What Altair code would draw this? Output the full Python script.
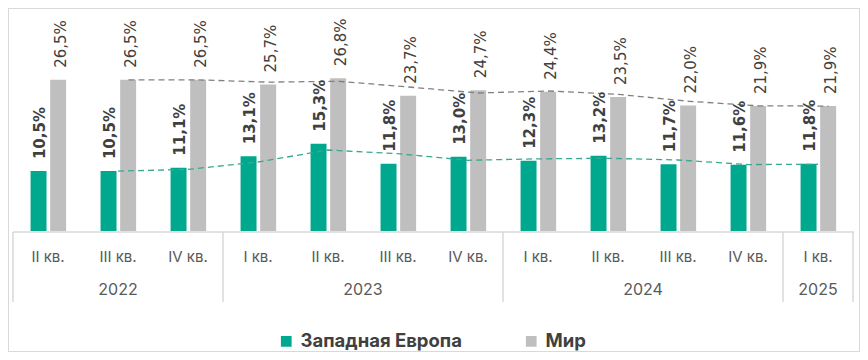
import altair as alt
import pandas as pd

quarters = ["II кв.", "III кв.", "IV кв.", "I кв.", "II кв.", "III кв.", "IV кв.",
            "I кв.", "II кв.", "III кв.", "IV кв.", "I кв."]
years = ["2022", "2022", "2022", "2023", "2023", "2023", "2023",
         "2024", "2024", "2024", "2024", "2025"]
west = [10.5, 10.5, 11.1, 13.1, 15.3, 11.8, 13.0, 12.3, 13.2, 11.7, 11.6, 11.8]
world = [26.5, 26.5, 26.5, 25.7, 26.8, 23.7, 24.7, 24.4, 23.5, 22.0, 21.9, 21.9]
series_names = ["Западная Европа", "Мир"]

TEAL = "#00a88e"
GRAY = "#bfbfbf"
LABEL = "#404040"
AXIS_TXT = "#595959"
AXIS_LN = "#d9d9d9"

rows = []
for i, (q, y, w, m) in enumerate(zip(quarters, years, west, world)):
    for s, v in ((series_names[0], w), (series_names[1], m)):
        rows.append(dict(idx=i, quarter=q, year=y, series=s, value=v,
                         label=f"{v:.1f}".replace(".", ",") + "%"))
df = pd.DataFrame(rows)
cats = pd.DataFrame({"idx": list(range(len(quarters))), "quarter": quarters, "year": years})

# year boundaries (between year groups and at both ends)
bounds = [-0.5]
for i in range(1, len(years)):
    if years[i] != years[i - 1]:
        bounds.append(i - 0.5)
bounds.append(len(years) - 0.5)
bdf = pd.DataFrame({"b": bounds})

X = alt.Scale(domain=[-0.5, 11.5], range=[5, 845])
Y = alt.Scale(domain=[0, 39.1], range=[223, 0])

base = alt.Chart(df).transform_calculate(
    xc="datum.idx + (datum.series == 'Мир' ? 0.145 : -0.135)"
)

bars = base.transform_calculate(
    x1="datum.xc - 0.114", x2="datum.xc + 0.114"
).mark_bar().encode(
    x=alt.X("x1:Q", scale=X, axis=None),
    x2="x2:Q",
    y=alt.Y("value:Q", scale=Y, axis=None),
    y2=alt.datum(0),
    color=alt.Color("series:N", scale=alt.Scale(domain=series_names, range=[TEAL, GRAY]),
                    legend=alt.Legend(orient="none", legendX=269, legendY=324,
                                      direction="horizontal", title=None,
                                      symbolType="square", symbolSize=115,
                                      symbolStrokeWidth=0, labelFont="Inter",
                                      labelFontSize=18.5, labelFontWeight="bold",
                                      labelColor=LABEL, columnPadding=60,
                                      labelOffset=5, labelLimit=400)),
)

def trend(series, color, shift):
    return alt.Chart(df).transform_filter(
        alt.datum.series == series
    ).transform_window(
        ma="mean(value)", n="count()", frame=[-1, 0], sort=[{"field": "idx"}]
    ).transform_filter("datum.n >= 2").transform_calculate(
        xl=f"datum.idx + {shift}"
    ).mark_line(strokeDash=[6, 4], strokeWidth=1.3, color=color).encode(
        x=alt.X("xl:Q", scale=X, axis=None),
        y=alt.Y("ma:Q", scale=Y, axis=None),
    )

trend_w = trend(series_names[0], "#3aa890", 0.0)
trend_m = trend(series_names[1], "#808080", 0.15)

lab_w = base.transform_filter(alt.datum.series == series_names[0]).mark_text(
    angle=270, align="left", baseline="middle", dx=12, dy=1,
    font="DejaVu Sans", fontSize=15, fontWeight="bold", color=LABEL
).encode(x=alt.X("xc:Q", scale=X, axis=None), y=alt.Y("value:Q", scale=Y, axis=None),
         text="label:N")

lab_m = base.transform_filter(alt.datum.series == series_names[1]).mark_text(
    angle=270, align="left", baseline="middle", dx=12, dy=3,
    font="DejaVu Sans", fontSize=15, fontWeight="normal", color=LABEL
).encode(x=alt.X("xc:Q", scale=X, axis=None), y=alt.Y("value:Q", scale=Y, axis=None),
         text="label:N")

baseline = alt.Chart(bdf).mark_rule(color=AXIS_LN, strokeWidth=1.5).encode(
    x=alt.value(5), x2=alt.value(846), y=alt.value(224)
).transform_filter("datum.b < 0")

seps = alt.Chart(bdf).mark_rule(color=AXIS_LN, strokeWidth=1.5).encode(
    x=alt.X("b:Q", scale=X, axis=None), y=alt.value(224), y2=alt.value(294)
)

qlab = alt.Chart(cats).mark_text(font="Inter", fontSize=15, color=AXIS_TXT,
                                 baseline="middle").encode(
    x=alt.X("idx:Q", scale=X, axis=None), y=alt.value(249), text="quarter:N"
)

ylab = alt.Chart(cats).transform_aggregate(
    m="mean(idx)", groupby=["year"]
).mark_text(font="Inter", fontSize=16, color=AXIS_TXT, baseline="middle").encode(
    x=alt.X("m:Q", scale=X, axis=None), y=alt.value(282), text="year:N"
)

chart = alt.layer(
    baseline, seps, bars, trend_w, trend_m, lab_w, lab_m, qlab, ylab
).properties(
    width=852, height=344, autosize=alt.AutoSizeParams(type="none"), padding=0
).configure_view(stroke="#d9d9d9", strokeWidth=2)

chart.save("out.html", embed_options={"renderer": "svg", "actions": False})
